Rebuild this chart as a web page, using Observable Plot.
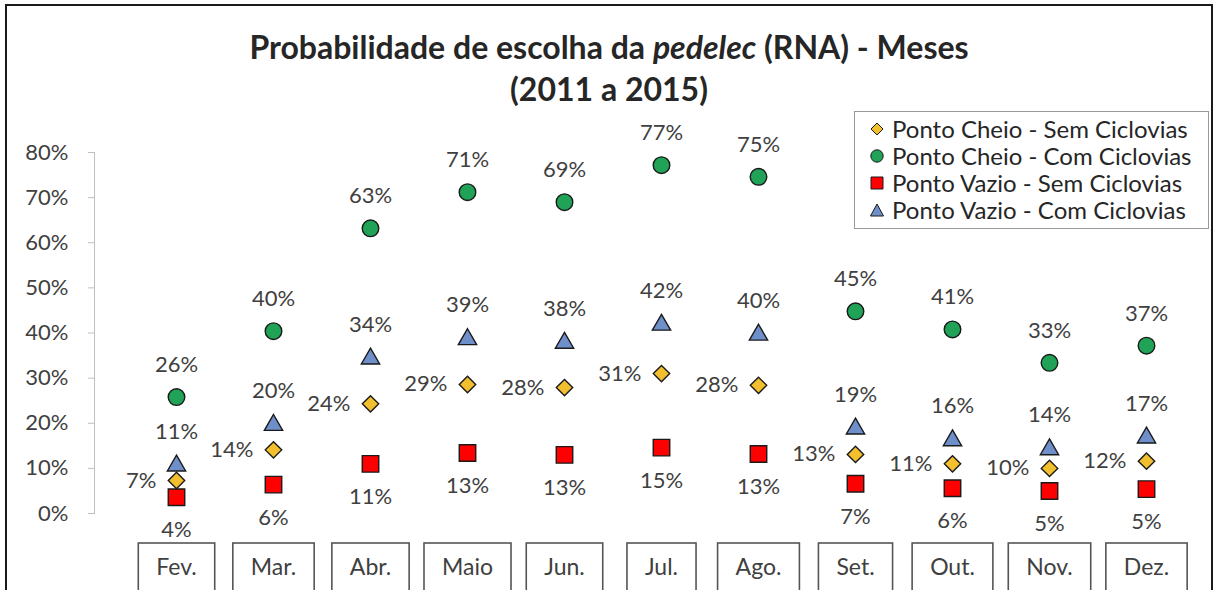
<!DOCTYPE html>
<html>
<head>
<meta charset="utf-8">
<script src="https://cdn.jsdelivr.net/npm/d3@7"></script>
<script src="https://cdn.jsdelivr.net/npm/@observablehq/plot@0.6"></script>
<style>
  html, body { margin: 0; padding: 0; background: #fff; }
  #wrap { position: relative; width: 1218px; height: 590px; overflow: hidden; background: #fff; font-family: Lato, "Open Sans", sans-serif; }
  #border { position: absolute; left: 5px; top: 4px; width: 1208px; height: 640px; border: 2px solid #1a1a1a; box-sizing: border-box; pointer-events: none; }
  #title { position: absolute; left: 0; top: 26px; width: 1218px; text-align: center; font-weight: bold; font-size: 32px; line-height: 42px; color: #262626; }
  #legend { position: absolute; left: 854px; top: 111px; width: 355px; height: 118px; border: 1px solid #999; box-sizing: border-box; padding-top: 3px; }
  .row { display: flex; align-items: center; height: 27px; font-size: 24px; color: #262626; white-space: nowrap; }
  .row svg { margin-left: 15px; margin-right: 8px; }
  #chart { position: absolute; left: 0; top: 0; }
</style>
</head>
<body>
<div id="wrap">
  <div id="chart"></div>
  <div id="title">Probabilidade de escolha da <i>pedelec</i> (RNA) - Meses<br>(2011 a 2015)</div>
  <div id="legend"></div>
  <div id="border"></div>
</div>
<script>
// ---- data ----
const months = ["Fev.", "Mar.", "Abr.", "Maio", "Jun.", "Jul.", "Ago.", "Set.", "Out.", "Nov.", "Dez."];
const cheioSem = [7.3, 14.1, 24.3, 28.6, 27.9, 31.0, 28.4, 13.1, 11.0, 10.0, 11.6];
const cheioCom = [25.8, 40.4, 63.2, 71.2, 69.0, 77.2, 74.6, 44.8, 40.8, 33.4, 37.2];
const vazioSem = [3.6, 6.4, 11.0, 13.4, 13.0, 14.6, 13.2, 6.6, 5.6, 5.0, 5.4];
const vazioCom = [10.6, 19.6, 34.3, 38.6, 37.8, 41.8, 39.6, 18.8, 16.2, 14.2, 16.8];
const yTicks = [0, 10, 20, 30, 40, 50, 60, 70, 80];
const seriesNames = [
  "Ponto Cheio - Sem Ciclovias",
  "Ponto Cheio - Com Ciclovias",
  "Ponto Vazio - Sem Ciclovias",
  "Ponto Vazio - Com Ciclovias"
];

const toRows = (vals) => months.map((m, i) => ({month: m, value: vals[i]}));
const rCS = toRows(cheioSem), rCC = toRows(cheioCom), rVS = toRows(vazioSem), rVC = toRows(vazioCom);
const fmt = d => Math.round(d.value) + "%";

const stroke = "#1a1a1a";
const cDiamond = "#f2bf2f", cCircle = "#20a257", cSquare = "#ff0000", cTri = "#6f8fca";
const labelColor = "#404040";
const fs = 22;

const plot = Plot.plot({
  width: 1218,
  height: 590,
  marginTop: 152,
  marginBottom: 77,
  marginLeft: 94,
  marginRight: 70,
  style: {fontFamily: "Lato, 'Open Sans', sans-serif", color: labelColor, background: "transparent"},
  x: {type: "point", domain: months, padding: 0, insetLeft: 79},
  y: {domain: [0, 80], ticks: yTicks},
  marks: [
    Plot.frame({anchor: "left", stroke: "#bfbfbf", strokeOpacity: 1}),
    Plot.axisY({ticks: yTicks, tickSize: 6, tickPadding: 20, fontSize: fs, tickFormat: d => d + "%", label: null}),
    Plot.axisX({tickSize: 0, tickPadding: 45, fontSize: 23, label: null}),
    Plot.dot(rCS, {x: "month", y: "value", symbol: "diamond2", r: 7.4, fill: cDiamond, stroke, strokeWidth: 1.4}),
    Plot.dot(rCC, {x: "month", y: "value", symbol: "circle", r: 8.3, fill: cCircle, stroke, strokeWidth: 1.4}),
    Plot.dot(rVS, {x: "month", y: "value", symbol: "square", r: 9.3, fill: cSquare, stroke, strokeWidth: 1.4}),
    Plot.dot(rVC, {x: "month", y: "value", symbol: "triangle", r: 6.8, fill: cTri, stroke, strokeWidth: 1.4}),
    Plot.text(rCS, {x: "month", y: "value", text: fmt, dx: -20, textAnchor: "end", fontSize: fs, fill: labelColor}),
    Plot.text(rCC, {x: "month", y: "value", text: fmt, dy: -32, fontSize: fs, fill: labelColor}),
    Plot.text(rVS, {x: "month", y: "value", text: fmt, dy: 33, fontSize: fs, fill: labelColor}),
    Plot.text(rVC, {x: "month", y: "value", text: fmt, dy: -34, fontSize: fs, fill: labelColor})
  ]
});
document.getElementById("chart").appendChild(plot);

// style the y-axis tick lines light grey
d3.select(plot).selectAll('g[aria-label="y-axis tick"] path').attr("stroke", "#bfbfbf");

// boxes around the month labels
const svgRect = plot.getBoundingClientRect();
const xl = plot.querySelector('g[aria-label="x-axis tick label"]');
if (xl) {
  const boxes = [];
  xl.querySelectorAll("text").forEach(t => {
    const b = t.getBoundingClientRect();
    boxes.push({x: b.left - svgRect.left, w: b.width});
  });
  const g = d3.select(plot).insert("g", () => xl);
  boxes.forEach(b => {
    g.append("rect")
      .attr("x", b.x - 18).attr("y", 543)
      .attr("width", b.w + 36).attr("height", 80)
      .attr("fill", "#fff").attr("stroke", "#555").attr("stroke-width", 1.6);
  });
}

// legend (HTML)
const legendSymbols = [
  {fill: cDiamond, path: "M7 1 L13 7 L7 13 L1 7 Z"},
  {fill: cCircle, circle: true},
  {fill: cSquare, path: "M1 1 H13 V13 H1 Z"},
  {fill: cTri, path: "M7 1 L13.5 13 L0.5 13 Z"}
];
const legend = document.getElementById("legend");
seriesNames.forEach((name, i) => {
  const s = legendSymbols[i];
  const shape = s.circle
    ? `<circle cx="7" cy="7" r="6.2" fill="${s.fill}" stroke="${stroke}" stroke-width="1"/>`
    : `<path d="${s.path}" fill="${s.fill}" stroke="${stroke}" stroke-width="1"/>`;
  const row = document.createElement("div");
  row.className = "row";
  row.innerHTML = `<svg width="14" height="14" viewBox="0 0 14 14">${shape}</svg><span>${name}</span>`;
  legend.appendChild(row);
});
</script>
</body>
</html>
